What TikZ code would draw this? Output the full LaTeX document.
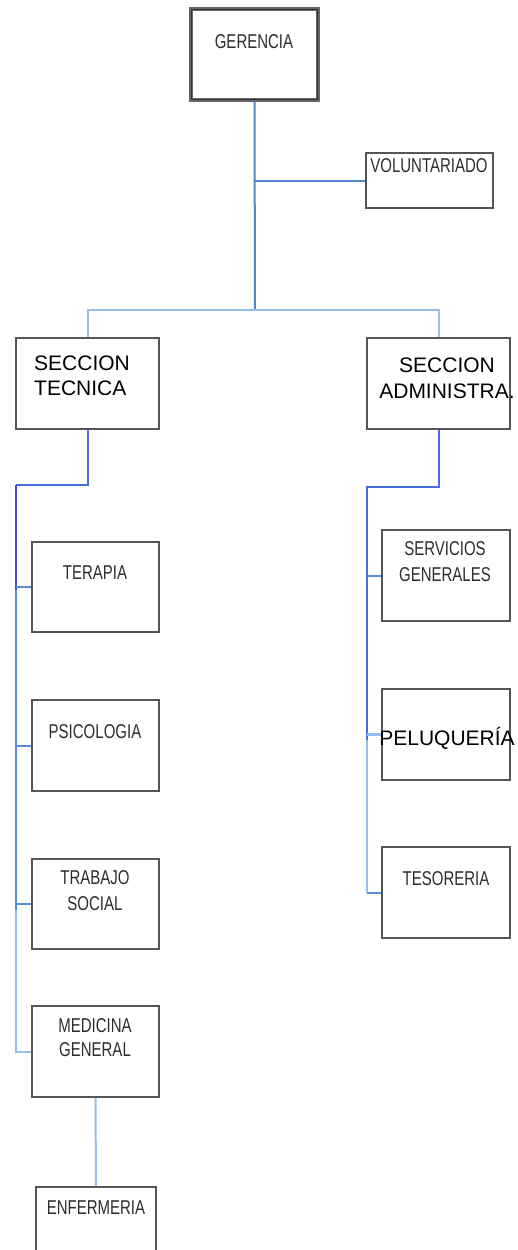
\documentclass[tikz,border=0pt]{standalone}
\usepackage{fontspec}
\setmainfont{Liberation Sans}
\newfontfamily\narrowfont[FakeStretch=0.75]{Liberation Sans}
\definecolor{boxgray}{RGB}{85,85,85}
\definecolor{txtgray}{RGB}{45,45,45}
\definecolor{trunkblue}{RGB}{80,135,205}
\definecolor{lightblue}{RGB}{150,190,235}
\definecolor{midblue}{RGB}{90,140,215}
\definecolor{deepblue}{RGB}{70,110,220}
\definecolor{purpleblue}{RGB}{80,75,200}
\newcommand\twoc[2]{\begin{tabular}[t]{@{}c@{}}#1\\#2\end{tabular}}
\newcommand\twol[2]{\begin{tabular}[t]{@{}l@{}}#1\\#2\end{tabular}}
\tikzset{
  box/.style={draw=boxgray, line width=2pt, fill=white, inner sep=0pt},
  ntxt/.style={inner sep=0pt, anchor=base, text=txtgray, font=\narrowfont\fontsize{20}{26}\selectfont},
  atxt/.style={inner sep=0pt, anchor=base, text=black, font=\fontsize{21}{26}\selectfont},
  conn/.style={line width=2pt},
}
\begin{document}
\begin{tikzpicture}[x=1pt,y=-1pt]
\useasboundingbox (0,0) rectangle (518,1250);
\clip (0,0) rectangle (518,1250);
\coordinate (bar) at (255,310);
\coordinate (lt) at (16,485);
\coordinate (rt) at (367,487);
% boxes
\node[box, minimum width=127pt, minimum height=91pt, draw=gray!80!black, line width=4pt] (ger) at (254.5,54.5) {};
\draw[line width=0.9pt, draw=black!80] ([xshift=2.2pt,yshift=-2.2pt]ger.north west) rectangle ([xshift=-2.2pt,yshift=2.2pt]ger.south east);
\node[box, minimum width=127pt, minimum height=55pt] (vol) at (429.5,180.5) {};
\node[box, minimum width=143pt, minimum height=91pt] (stec) at (87.5,383.5) {};
\node[box, minimum width=143pt, minimum height=91pt] (sadm) at (438.5,383.5) {};
\node[box, minimum width=127pt, minimum height=90pt] (ter) at (95.5,587) {};
\node[box, minimum width=128pt, minimum height=91pt] (serv) at (446,575.5) {};
\node[box, minimum width=127pt, minimum height=91pt] (psi) at (95.5,745.5) {};
\node[box, minimum width=128pt, minimum height=91pt] (pel) at (446,734.5) {};
\node[box, minimum width=127pt, minimum height=90pt] (trab) at (95.5,904) {};
\node[box, minimum width=128pt, minimum height=91pt] (tes) at (446,892.5) {};
\node[box, minimum width=127pt, minimum height=91pt] (med) at (95.5,1051.5) {};
\node[box, minimum width=120pt, minimum height=93pt] (enf) at (96,1233.5) {};
% connectors
\draw[conn, trunkblue] (ger.south) -- (bar);
\draw[conn, trunkblue] (ger.south |- vol.west) -- (vol.west);
\draw[conn, lightblue] (stec.north) |- (bar) -| (sadm.north);
\draw[conn, deepblue] (stec.south) |- (lt);
\draw[conn, purpleblue] (lt) -- (16,590);
\draw[conn, midblue] (16,590) -- (16,910);
\draw[conn, lightblue] (16,910) -- (lt |- med.west) -- (med.west);
\draw[conn, midblue] (lt |- ter.west) -- (ter.west);
\draw[conn, midblue] (lt |- psi.west) -- (psi.west);
\draw[conn, midblue] (lt |- trab.west) -- (trab.west);
\draw[conn, deepblue] (sadm.south) |- (rt) -- (367,740);
\draw[conn, lightblue] (367,740) -- (rt |- tes.west);
\draw[conn, midblue] (rt |- tes.west) -- (tes.west);
\draw[conn, midblue] (rt |- serv.west) -- (serv.west);
\draw[conn, lightblue, line width=2.8pt] (rt |- pel.west) -- (pel.west);
\draw[conn, lightblue] (med.south) -- (enf.north);
% texts
\node[ntxt] (tger) at (254,48.2) {GERENCIA};
\node[ntxt] (tvol) at (429,172.2) {VOLUNTARIADO};
\node[atxt, anchor=base west] (tstec) at (34,370.5) {\fontsize{21}{25}\selectfont\twol{SECCION}{TECNICA}};
\node[atxt] (tsadm) at (447,372.5) {\twoc{SECCION}{ADMINISTRA.}};
\node[ntxt] (tter) at (95,579.2) {TERAPIA};
\node[ntxt] (tserv) at (445,555.2) {\twoc{SERVICIOS}{GENERALES}};
\node[ntxt] (tpsi) at (95,738.2) {PSICOLOGIA};
\node[atxt] (tpel) at (447,745.5) {PELUQUERÍA};
\node[ntxt] (ttrab) at (95,884.2) {\twoc{TRABAJO}{SOCIAL}};
\node[ntxt] (ttes) at (446,885.2) {TESORERIA};
\node[ntxt] (tmed) at (95,1032.2) {\fontsize{20}{24}\selectfont\twoc{MEDICINA}{GENERAL}};
\node[ntxt] (tenf) at (96,1214.2) {ENFERMERIA};
\end{tikzpicture}
\end{document}
